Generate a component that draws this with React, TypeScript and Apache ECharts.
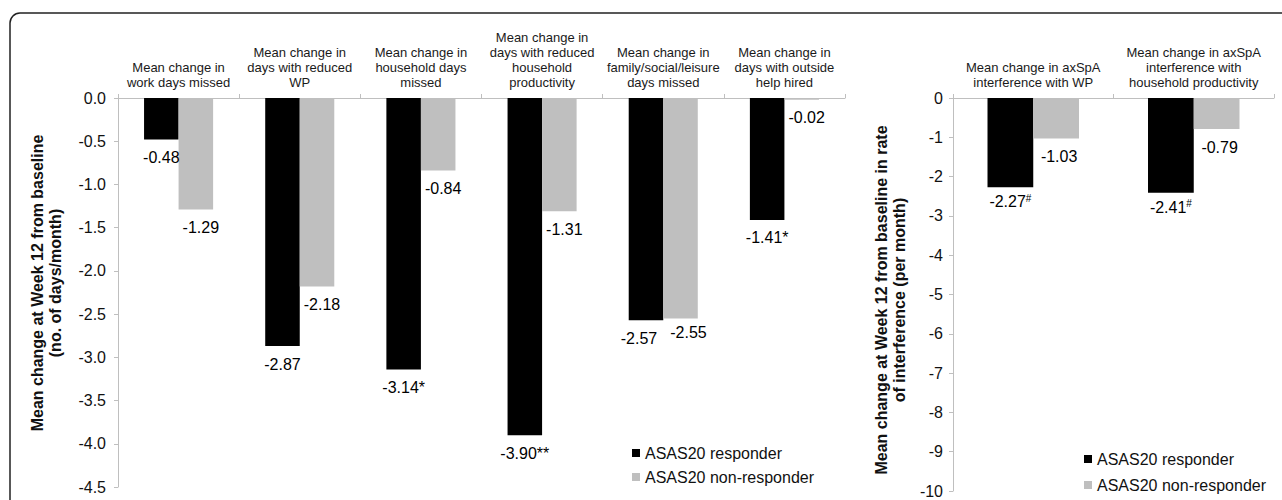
import React, { useEffect, useRef } from "react";
import * as echarts from "echarts";

// ---- Data ----
const leftCategories = [
  "Mean change in\nwork days missed",
  "Mean change in\ndays with reduced\nWP",
  "Mean change in\nhousehold days\nmissed",
  "Mean change in\ndays with reduced\nhousehold\nproductivity",
  "Mean change in\nfamily/social/leisure\ndays missed",
  "Mean change in\ndays with outside\nhelp hired",
];
const leftResponder = [-0.48, -2.87, -3.14, -3.9, -2.57, -1.41];
const leftResponderSig = ["", "", "*", "**", "", "*"];
const leftNonResponder = [-1.29, -2.18, -0.84, -1.31, -2.55, -0.02];

const rightCategories = [
  "Mean change in axSpA\ninterference with WP",
  "Mean change in axSpA\ninterference with\nhousehold productivity",
];
const rightResponder = [-2.27, -2.41];
const rightResponderSig = ["#", "#"];
const rightNonResponder = [-1.03, -0.79];

const leftYTicks = { min: -4.5, max: 0, interval: 0.5 };
const rightYTicks = { min: -10, max: 0, interval: 1 };

const seriesNames = ["ASAS20 responder", "ASAS20 non-responder"];
const leftTitle = "Mean change at Week 12 from baseline\n(no. of days/month)";
const rightTitle = "Mean change at Week 12 from baseline in rate\nof interference (per month)";

// ---- Styles ----
const FONT = "'Liberation Sans', Arial, sans-serif";
const BLACK = "#000000";
const GRAY = "#bfbfbf";
const AXIS = "#bfbfbf";
const leftRespOffsets = [[0, 0], [0, 0], [0, 0], [0, 0], [-7, 0], [0, 0]];
const leftNonOffsets = [[5, 0], [5, 0], [5, 0], [5, 0], [8, -4], [5, 0]];

function App() {
  const ref = useRef<HTMLDivElement>(null);
  useEffect(() => {
    if (!ref.current) return;
    const chart = echarts.init(ref.current, null, { renderer: "svg" });

    const rich = {
      v: { fontSize: 16, fontFamily: FONT, color: "#000" },
      s: { fontSize: 10, fontFamily: FONT, color: "#000", padding: [0, 0, 7, 0] },
    };
    const labelBase = {
      show: true,
      position: "outside",
      distance: 10,
      fontSize: 16,
      fontFamily: FONT,
      color: "#000",
    };

    const catAxis = (gridIndex: number, data: string[]) => ({
      type: "category",
      gridIndex,
      position: "top",
      data,
      axisLine: { onZero: false, lineStyle: { color: AXIS, width: 1 } },
      axisTick: { show: true, length: 4, lineStyle: { color: AXIS } },
      axisLabel: {
        interval: 0,
        margin: 8,
        fontSize: 13,
        lineHeight: 15,
        fontFamily: FONT,
        color: "#1a1a1a",
        align: "center",
      },
    });
    const valAxis = (gridIndex: number, t: any, dec: number, margin: number) => ({
      type: "value",
      gridIndex,
      min: t.min,
      max: t.max,
      interval: t.interval,
      axisLine: { show: true, lineStyle: { color: AXIS } },
      axisTick: { show: true, length: 4, lineStyle: { color: AXIS } },
      splitLine: { show: false },
      axisLabel: {
        fontSize: 16,
        fontFamily: FONT,
        color: "#111",
        margin,
        formatter: (v: number) => v.toFixed(dec),
      },
    });
    const titleText = (x: number, y: number, text: string) => ({
      type: "text",
      x,
      y,
      rotation: Math.PI / 2,
      silent: true,
      style: {
        text,
        align: "center",
        verticalAlign: "middle",
        textAlign: "center",
        textVerticalAlign: "middle",
        fontSize: 16,
        fontWeight: "bold",
        fontFamily: FONT,
        lineHeight: 18,
        fill: "#111",
      },
    });

    const option = {
      animation: false,
      backgroundColor: "#fff",
      graphic: [
        {
          type: "rect",
          shape: { x: 10, y: 13, width: 1300, height: 540, r: 10 },
          style: { fill: "none", stroke: "#222", lineWidth: 1.5 },
          silent: true,
        },
        titleText(46, 283, leftTitle),
        titleText(890, 300, rightTitle),
      ],
      grid: [
        { left: 118, top: 98, width: 727, height: 389 },
        { left: 953, top: 98, width: 321, height: 393 },
      ],
      legend: [
        {
          left: 627,
          top: 440,
          orient: "vertical",
          itemWidth: 8,
          itemHeight: 8,
          itemGap: 8,
          icon: "rect",
          data: seriesNames,
          textStyle: { fontSize: 16, lineHeight: 16, fontFamily: FONT, color: "#111" },
        },
        {
          left: 1079,
          top: 446,
          orient: "vertical",
          itemWidth: 8,
          itemHeight: 8,
          itemGap: 10,
          icon: "rect",
          data: seriesNames,
          textStyle: { fontSize: 16, lineHeight: 16, fontFamily: FONT, color: "#111" },
        },
      ],
      xAxis: [catAxis(0, leftCategories), catAxis(1, rightCategories)],
      yAxis: [valAxis(0, leftYTicks, 1, 12), valAxis(1, rightYTicks, 0, 10)],
      series: [
        {
          name: seriesNames[0],
          type: "bar",
          xAxisIndex: 0,
          yAxisIndex: 0,
          barWidth: "28.5%",
          barGap: "0%",
          itemStyle: { color: BLACK },
          data: leftResponder.map((v, i) => ({
            value: v,
            label: { ...labelBase, offset: leftRespOffsets[i], formatter: () => v.toFixed(2) + leftResponderSig[i] },
          })),
        },
        {
          name: seriesNames[1],
          type: "bar",
          xAxisIndex: 0,
          yAxisIndex: 0,
          barWidth: "28.5%",
          barGap: "0%",
          itemStyle: { color: GRAY },
          data: leftNonResponder.map((v, i) => ({
            value: v,
            label: { ...labelBase, offset: leftNonOffsets[i], formatter: () => v.toFixed(2) },
          })),
        },
        {
          name: seriesNames[0],
          type: "bar",
          xAxisIndex: 1,
          yAxisIndex: 1,
          barWidth: "28.5%",
          barGap: "0%",
          itemStyle: { color: BLACK },
          data: rightResponder.map((v, i) => ({
            value: v,
            label: {
              ...labelBase,
              distance: 6,
              rich,
              formatter: () => `{v|${v.toFixed(2)}}{s|${rightResponderSig[i]}}`,
            },
          })),
        },
        {
          name: seriesNames[1],
          type: "bar",
          xAxisIndex: 1,
          yAxisIndex: 1,
          barWidth: "28.5%",
          barGap: "0%",
          itemStyle: { color: GRAY },
          data: rightNonResponder.map((v) => ({
            value: v,
            label: { ...labelBase, offset: [3, 0], formatter: () => v.toFixed(2) },
          })),
        },
      ],
    };
    chart.setOption(option as any);
    return () => chart.dispose();
  }, []);
  return (
    <div
      ref={ref}
      style={{ position: "absolute", left: 0, top: 0, width: 1282, height: 500 }}
    />
  );
}

export default App;
